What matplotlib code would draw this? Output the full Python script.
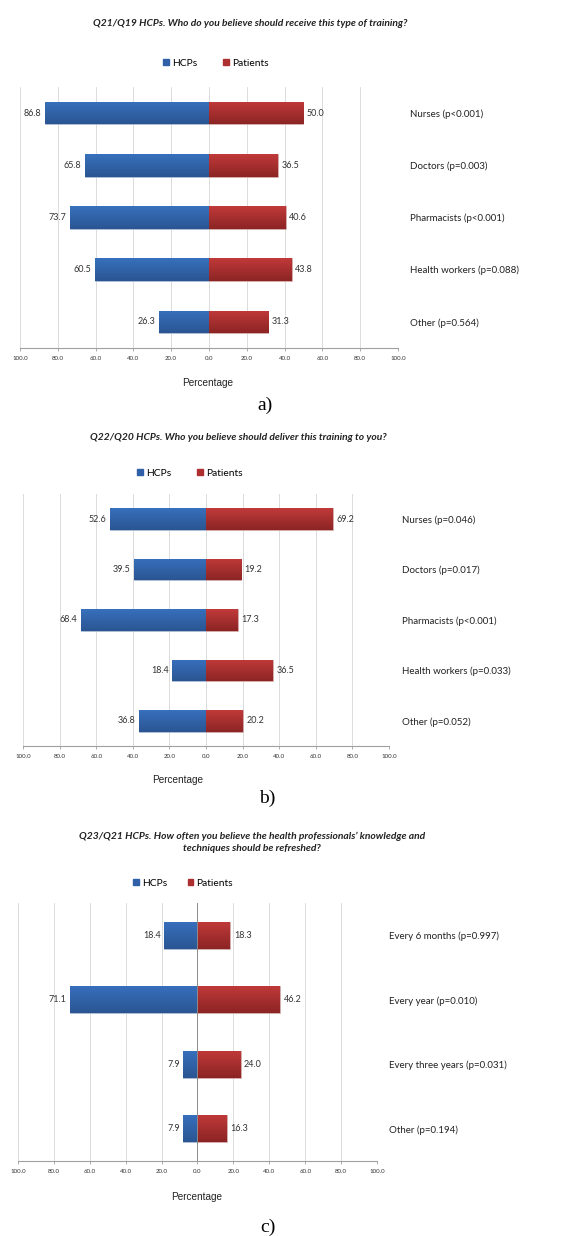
import numpy as np
import matplotlib
matplotlib.use("Agg")
import matplotlib.pyplot as plt
from matplotlib.patches import Patch
from matplotlib.colors import LinearSegmentedColormap

# ------------------------------------------------------------------
# data
# ------------------------------------------------------------------
cats_a = ["Nurses (p<0.001)", "Doctors (p=0.003)", "Pharmacists (p<0.001)",
          "Health workers (p=0.088)", "Other (p=0.564)"]
hcps_a = [86.8, 65.8, 73.7, 60.5, 26.3]
patients_a = [50.0, 36.5, 40.6, 43.8, 31.3]

cats_b = ["Nurses (p=0.046)", "Doctors (p=0.017)", "Pharmacists (p<0.001)",
          "Health workers (p=0.033)", "Other (p=0.052)"]
hcps_b = [52.6, 39.5, 68.4, 18.4, 36.8]
patients_b = [69.2, 19.2, 17.3, 36.5, 20.2]

cats_c = ["Every 6 months (p=0.997)", "Every year (p=0.010)",
          "Every three years (p=0.031)", "Other (p=0.194)"]
hcps_c = [18.4, 71.1, 7.9, 7.9]
patients_c = [18.3, 46.2, 24.0, 16.3]

titles = [
    "Q21/Q19 HCPs. Who do you believe should receive this type of training?",
    "Q22/Q20 HCPs. Who you believe should deliver this training to you?",
    "Q23/Q21 HCPs. How often you believe the health professionals\u2019 knowledge and\ntechniques should be refreshed?",
]
panel_tags = ["a)", "b)", "c)"]
ticks = np.arange(-100, 101, 20)

BLUE = "#2F60A8"
RED = "#AE2F2F"
blue_grad = LinearSegmentedColormap.from_list("bg", ["#3870bd", "#2a5592"])
red_grad = LinearSegmentedColormap.from_list("rg", ["#c13a3a", "#8c2424"])
W, H = 580, 1236

fig = plt.figure(figsize=(W / 100, H / 100), dpi=100)
fig.patch.set_facecolor("white")


def fx(x):
    return x / W


def fy(y):
    return 1 - y / H


def shade(ax, bars, cmap):
    # vertical gradient clipped to each bar, like the Excel fill
    grad = np.linspace(0, 1, 64).reshape(-1, 1)
    for p in bars:
        x0, w = p.get_x(), p.get_width()
        y0, h = p.get_y(), p.get_height()
        im = ax.imshow(grad, cmap=cmap, aspect="auto", origin="upper",
                       extent=[min(x0, x0 + w), max(x0, x0 + w), y0 + h, y0],
                       zorder=3.5, interpolation="bilinear")
        im.set_clip_path(p)


def panel(box, cats, hcps, pats, title, title_xy, leg_xy, colsp, xlab_xy, tag,
          tag_xy, zero_line=False, bar_h=0.43):
    x0, y0, x1, y1 = box
    ax = fig.add_axes([fx(x0), fy(y1), (x1 - x0) / W, (y1 - y0) / H])
    y = np.arange(len(cats))
    b1 = ax.barh(y, -np.array(hcps), height=bar_h, color=BLUE,
                 edgecolor="#b8c4d6", linewidth=0.5, zorder=3)
    b2 = ax.barh(y, pats, height=bar_h, color=RED,
                 edgecolor="#d2b6b6", linewidth=0.5, zorder=3)
    shade(ax, b1, blue_grad)
    shade(ax, b2, red_grad)
    ax.bar_label(b1, labels=[f"{v:.1f}" for v in hcps], padding=2.5,
                 fontsize=6.5, family="Lato", color="#333333")
    ax.bar_label(b2, labels=[f"{v:.1f}" for v in pats], padding=2.5,
                 fontsize=6.5, family="Lato", color="#333333")

    ax.set_xlim(-100, 100)
    ax.set_ylim(len(cats) - 0.5, -0.5)
    ax.set_xticks(ticks)
    ax.set_xticklabels([f"{abs(t):.1f}" for t in ticks], fontsize=4.4,
                       family="Lato", color="#333333")
    ax.tick_params(axis="x", length=2.5, width=0.6, color="#a0a0a0", pad=3)
    ax.set_yticks(y)
    ax.set_yticklabels(cats, fontsize=7, family="Lato", color="#222222")
    ax.yaxis.tick_right()
    ax.tick_params(axis="y", length=0, pad=9)
    for s in ["top", "left", "right"]:
        ax.spines[s].set_visible(False)
    ax.spines["bottom"].set_color("#a0a0a0")
    ax.spines["bottom"].set_linewidth(0.8)
    ax.grid(axis="x", color="#d6d6d6", linewidth=0.6, zorder=0)
    ax.set_axisbelow(True)
    if zero_line:
        ax.axvline(0, color="#8c8c8c", linewidth=0.7, zorder=4)

    fig.text(fx(title_xy[0]), fy(title_xy[1]), title, ha="center", va="center",
             fontsize=7.4, family="Lato", fontweight="bold", fontstyle="italic",
             color="#222222", linespacing=1.4)
    handles = [Patch(color=BLUE, label="HCPs"), Patch(color=RED, label="Patients")]
    fig.legend(handles=handles, loc="center", bbox_to_anchor=(fx(leg_xy[0]), fy(leg_xy[1])),
               ncol=2, frameon=False, handlelength=0.55, handleheight=0.55,
               handletextpad=0.3, columnspacing=colsp,
               prop={"family": "Lato", "size": 7.4})
    fig.text(fx(xlab_xy[0]), fy(xlab_xy[1]), "Percentage", ha="center", va="center",
             fontsize=7.2, family="Liberation Sans", color="#222222")
    fig.text(fx(tag_xy[0]), fy(tag_xy[1]), tag, ha="center",
             va="center", fontsize=14, family="Liberation Serif", color="black")
    return ax


panel((20, 87, 398, 348), cats_a, hcps_a, patients_a, titles[0],
      (250, 24), (216, 63), 2.5, (208, 383), panel_tags[0], (265, 405))
panel((23, 494, 389, 746), cats_b, hcps_b, patients_b, titles[1],
      (238, 437), (190, 473), 2.5, (178, 780), panel_tags[1], (267, 798))
panel((18, 903, 377, 1161), cats_c, hcps_c, patients_c, titles[2],
      (252, 842), (183, 883), 2.0, (197, 1197), panel_tags[2], (268, 1227),
      zero_line=True, bar_h=0.42)

fig.savefig("out.png", dpi=100, facecolor="white")
